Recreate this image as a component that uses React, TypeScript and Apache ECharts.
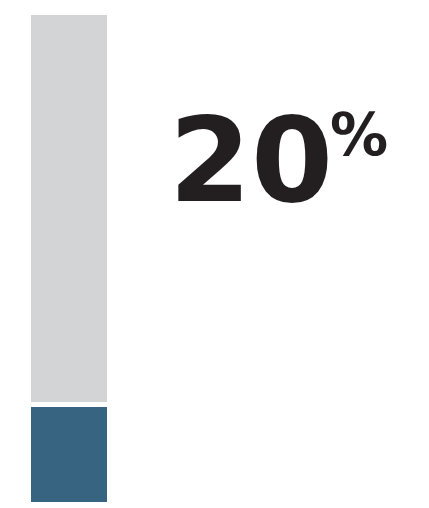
import React from 'react';
import * as echarts from 'echarts';

const categories = ['Share'];
const filledValues = [20];
const remainderValues = [80];
const labelValue = '20';
const labelUnit = '%';

const App = () => {
  const chartRef = React.useRef(null);

  React.useEffect(() => {
    document.body.style.margin = '0';
    const myChart = echarts.init(chartRef.current, null, { renderer: 'svg' });

    const option: any = {
      animation: false,
      grid: { left: 31, width: 76, top: 15, bottom: 6 },
      xAxis: {
        type: 'category',
        data: categories,
        show: false,
      },
      yAxis: {
        type: 'value',
        min: 0,
        max: 100,
        show: false,
      },
      series: [
        {
          type: 'bar',
          stack: 'total',
          barWidth: '100%',
          data: filledValues,
          itemStyle: { color: '#376480' },
          markLine: {
            silent: true,
            symbol: 'none',
            label: { show: false },
            lineStyle: { color: '#ffffff', width: 5, type: 'solid' },
            data: [{ yAxis: filledValues[0] }],
          },
        },
        {
          type: 'bar',
          stack: 'total',
          barWidth: '100%',
          data: remainderValues,
          itemStyle: { color: '#d3d4d6' },
        },
      ],
      graphic: [
        {
          type: 'text',
          left: 169,
          top: 101,
          style: {
            text: labelValue,
            fontFamily: 'DejaVu Sans',
            fontWeight: 'bold',
            fontSize: 118,
            fill: '#231f20',
          },
        },
        {
          type: 'text',
          left: 330,
          top: 106,
          style: {
            text: labelUnit,
            fontFamily: 'DejaVu Sans',
            fontWeight: 'bold',
            fontSize: 58,
            fill: '#231f20',
          },
        },
      ],
    };

    myChart.setOption(option);

    return () => {
      myChart.dispose();
    };
  }, []);

  return <div ref={chartRef} style={{ width: '429px', height: '508px' }} />;
};

export default App;
